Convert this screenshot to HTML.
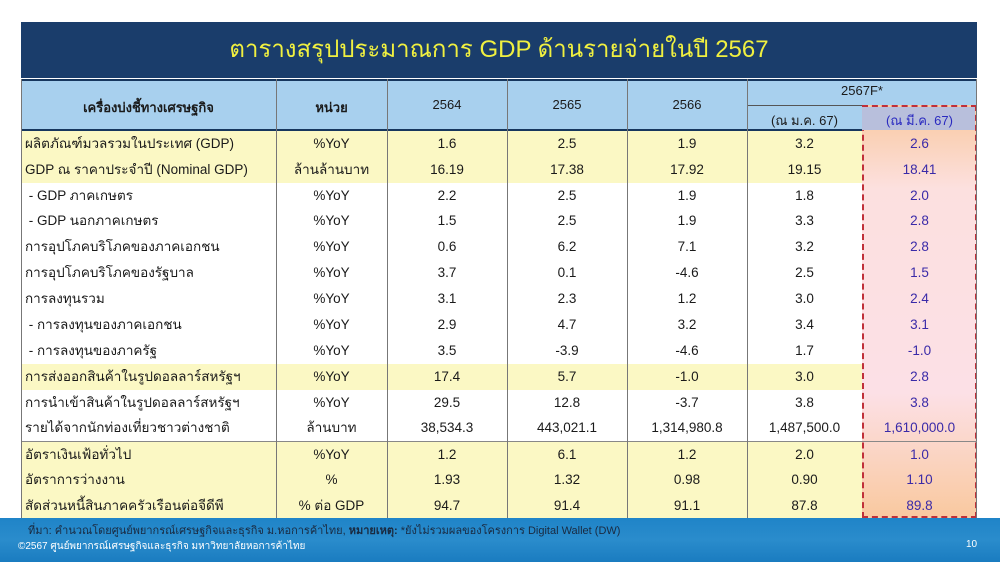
<!DOCTYPE html>
<html><head><meta charset="utf-8"><style>
body{margin:0;width:1000px;height:562px;background:#fff;position:relative;overflow:hidden;font-family:"Liberation Sans","Noto Sans CJK SC","WenQuanYi Zen Hei",sans-serif;}
.abs{position:absolute;}
#title{left:21px;top:22px;width:956px;height:56px;background:#1a3d6b;color:#f0f040;font-size:24px;line-height:56px;text-align:center;}
#hdr{left:21px;top:79px;width:956px;height:52px;background:#a8d0ee;border-top:2px solid #17375e;border-bottom:2px solid #17375e;box-sizing:border-box;}
.h{position:absolute;font-size:13px;color:#1a1a1a;text-align:center;}
.row{position:absolute;left:21px;width:956px;height:26px;font-size:13.5px;color:#1a1a1a;}
.row div{position:absolute;top:0;height:26px;line-height:26px;text-align:center;}
.y{background:#fbf8c4;}
.c0{left:4px;width:250px;text-align:left!important;}
.c1{left:255px;width:111px}.c2{left:366px;width:120px}.c3{left:486px;width:120px}.c4{left:606px;width:120px}.c5{left:726px;width:115px}.c6{left:841px;width:115px;color:#3a2aa8}
.vl{position:absolute;top:79px;height:439px;width:1px;background:#777;}
#last{left:862px;top:105px;width:115px;height:413px;background:linear-gradient(#f9c9a0,#fce0df 20%,#fce0e6 70%,#f9c9a0);border:2px dashed #c0303a;box-sizing:border-box;}
#foot{left:0;top:518px;width:1000px;height:44px;background:linear-gradient(#1f84c8,#2a8ccc 50%,#1a7cc0);}
</style></head><body>
<div id="title" class="abs">ตารางสรุปประมาณการ GDP ด้านรายจ่ายในปี 2567</div>
<div id="hdr" class="abs"></div>
<div id="last" class="abs"></div>
<div class="abs" style="left:862px;top:107px;width:113px;height:23px;background:#b8bfdc"></div>
<div class="abs" style="left:747px;top:105px;width:115px;height:1px;background:#555"></div>
<div class="vl" style="left:21px"></div><div class="vl" style="left:276px"></div><div class="vl" style="left:387px"></div><div class="vl" style="left:507px"></div><div class="vl" style="left:627px"></div><div class="vl" style="left:747px"></div><div class="vl" style="left:976px"></div>
<div class="h" style="left:21px;width:255px;top:97px;font-weight:bold">เครื่องบ่งชี้ทางเศรษฐกิจ</div>
<div class="h" style="left:276px;width:111px;top:97px;font-weight:bold">หน่วย</div>
<div class="h" style="left:387px;width:120px;top:97px">2564</div>
<div class="h" style="left:507px;width:120px;top:97px">2565</div>
<div class="h" style="left:627px;width:120px;top:97px">2566</div>
<div class="h" style="left:747px;width:230px;top:83px">2567F*</div>
<div class="h" style="left:747px;width:115px;top:110px">(ณ ม.ค. 67)</div>
<div class="h" style="left:862px;width:115px;top:110px;color:#2a2ac0">(ณ มี.ค. 67)</div>

<div class="row" style="top:131px"><div class="y" style="left:0;width:841px"></div><div class="c0">ผลิตภัณฑ์มวลรวมในประเทศ (GDP)</div><div class="c1">%YoY</div><div class="c2">1.6</div><div class="c3">2.5</div><div class="c4">1.9</div><div class="c5">3.2</div><div class="c6">2.6</div></div>
<div class="row" style="top:157px"><div class="y" style="left:0;width:841px"></div><div class="c0">GDP ณ ราคาประจำปี (Nominal GDP)</div><div class="c1">ล้านล้านบาท</div><div class="c2">16.19</div><div class="c3">17.38</div><div class="c4">17.92</div><div class="c5">19.15</div><div class="c6">18.41</div></div>
<div class="row" style="top:183px"><div class="c0">&nbsp;- GDP ภาคเกษตร</div><div class="c1">%YoY</div><div class="c2">2.2</div><div class="c3">2.5</div><div class="c4">1.9</div><div class="c5">1.8</div><div class="c6">2.0</div></div>
<div class="row" style="top:208px"><div class="c0">&nbsp;- GDP นอกภาคเกษตร</div><div class="c1">%YoY</div><div class="c2">1.5</div><div class="c3">2.5</div><div class="c4">1.9</div><div class="c5">3.3</div><div class="c6">2.8</div></div>
<div class="row" style="top:234px"><div class="c0">การอุปโภคบริโภคของภาคเอกชน</div><div class="c1">%YoY</div><div class="c2">0.6</div><div class="c3">6.2</div><div class="c4">7.1</div><div class="c5">3.2</div><div class="c6">2.8</div></div>
<div class="row" style="top:260px"><div class="c0">การอุปโภคบริโภคของรัฐบาล</div><div class="c1">%YoY</div><div class="c2">3.7</div><div class="c3">0.1</div><div class="c4">-4.6</div><div class="c5">2.5</div><div class="c6">1.5</div></div>
<div class="row" style="top:286px"><div class="c0">การลงทุนรวม</div><div class="c1">%YoY</div><div class="c2">3.1</div><div class="c3">2.3</div><div class="c4">1.2</div><div class="c5">3.0</div><div class="c6">2.4</div></div>
<div class="row" style="top:312px"><div class="c0">&nbsp;- การลงทุนของภาคเอกชน</div><div class="c1">%YoY</div><div class="c2">2.9</div><div class="c3">4.7</div><div class="c4">3.2</div><div class="c5">3.4</div><div class="c6">3.1</div></div>
<div class="row" style="top:338px"><div class="c0">&nbsp;- การลงทุนของภาครัฐ</div><div class="c1">%YoY</div><div class="c2">3.5</div><div class="c3">-3.9</div><div class="c4">-4.6</div><div class="c5">1.7</div><div class="c6">-1.0</div></div>
<div class="row" style="top:364px"><div class="y" style="left:0;width:841px"></div><div class="c0">การส่งออกสินค้าในรูปดอลลาร์สหรัฐฯ</div><div class="c1">%YoY</div><div class="c2">17.4</div><div class="c3">5.7</div><div class="c4">-1.0</div><div class="c5">3.0</div><div class="c6">2.8</div></div>
<div class="row" style="top:390px"><div class="c0">การนำเข้าสินค้าในรูปดอลลาร์สหรัฐฯ</div><div class="c1">%YoY</div><div class="c2">29.5</div><div class="c3">12.8</div><div class="c4">-3.7</div><div class="c5">3.8</div><div class="c6">3.8</div></div>
<div class="row" style="top:415px"><div class="c0">รายได้จากนักท่องเที่ยวชาวต่างชาติ</div><div class="c1">ล้านบาท</div><div class="c2">38,534.3</div><div class="c3">443,021.1</div><div class="c4">1,314,980.8</div><div class="c5">1,487,500.0</div><div class="c6">1,610,000.0</div></div>
<div class="row" style="top:441px;border-top:1px solid #888"><div class="y" style="left:0;width:841px;height:77px"></div><div class="c0">อัตราเงินเฟ้อทั่วไป</div><div class="c1">%YoY</div><div class="c2">1.2</div><div class="c3">6.1</div><div class="c4">1.2</div><div class="c5">2.0</div><div class="c6">1.0</div></div>
<div class="row" style="top:467px"><div class="c0">อัตราการว่างงาน</div><div class="c1">%</div><div class="c2">1.93</div><div class="c3">1.32</div><div class="c4">0.98</div><div class="c5">0.90</div><div class="c6">1.10</div></div>
<div class="row" style="top:493px"><div class="c0">สัดส่วนหนี้สินภาคครัวเรือนต่อจีดีพี</div><div class="c1">% ต่อ GDP</div><div class="c2">94.7</div><div class="c3">91.4</div><div class="c4">91.1</div><div class="c5">87.8</div><div class="c6">89.8</div></div>
<div class="vl" style="left:276px;top:131px;height:387px"></div><div class="vl" style="left:387px;top:131px;height:387px"></div><div class="vl" style="left:507px;top:131px;height:387px"></div><div class="vl" style="left:627px;top:131px;height:387px"></div><div class="vl" style="left:747px;top:131px;height:387px"></div><div class="vl" style="left:21px;top:131px;height:387px"></div>

<div id="foot" class="abs"></div>
<div class="abs" style="left:28px;top:521px;font-size:11px;color:#1a2a40">ที่มา: คำนวณโดยศูนย์พยากรณ์เศรษฐกิจและธุรกิจ ม.หอการค้าไทย, <b>หมายเหตุ:</b> *ยังไม่รวมผลของโครงการ Digital Wallet (DW)</div>
<div class="abs" style="left:18px;top:539px;font-size:10px;color:#fff">©2567 ศูนย์พยากรณ์เศรษฐกิจและธุรกิจ มหาวิทยาลัยหอการค้าไทย</div>
<div class="abs" style="left:966px;top:539px;font-size:10px;color:#fff">10</div>
</body></html>
